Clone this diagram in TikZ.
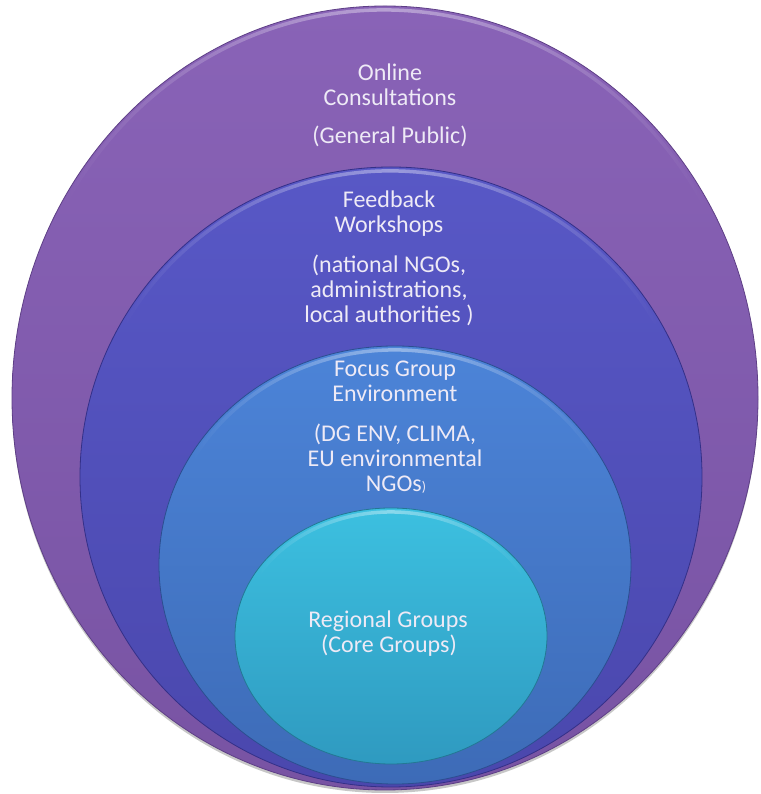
\documentclass[tikz,border=0pt]{standalone}
\usepackage{fontspec}
\setmainfont{Carlito}
\usetikzlibrary{fadings}
\definecolor{oTop}{HTML}{8963B7}
\definecolor{oBot}{HTML}{7853A3}
\definecolor{oLine}{HTML}{5E3F86}
\definecolor{fTop}{HTML}{5858C6}
\definecolor{fBot}{HTML}{4A47AD}
\definecolor{fLine}{HTML}{343088}
\definecolor{gTop}{HTML}{4C84D8}
\definecolor{gBot}{HTML}{3D6BB7}
\definecolor{gLine}{HTML}{2C4E90}
\definecolor{rTop}{HTML}{3CC0E0}
\definecolor{rBot}{HTML}{2F9AC0}
\definecolor{rLine}{HTML}{237894}
\definecolor{txt}{HTML}{EEEAF6}
\tikzfading[name=midfade, left color=transparent!100, right color=transparent!100, middle color=transparent!0]
\tikzset{
  lbl/.style={anchor=base, inner sep=0pt, text=txt, font=\fontsize{24}{25}\selectfont},
  hilite/.style={white, opacity=0.4, line width=3.5pt, path fading=midfade},
}
\begin{document}
\begin{tikzpicture}[x=1pt,y=1pt]
\useasboundingbox (0,0) rectangle (760,794);
\fill[white] (0,0) rectangle (760,794);
% shadow
\fill[black,opacity=0.22] (385,393) ellipse[x radius=373,y radius=392];
% outer
\shade[top color=oTop,bottom color=oBot,draw=oLine,line width=0.8pt] (385,396) ellipse[x radius=373,y radius=392];
\draw[hilite] (385,396) ++(30:369 and 388) arc[start angle=30,end angle=150,x radius=369,y radius=388];
% feedback
\shade[top color=fTop,bottom color=fBot,draw=fLine,line width=0.8pt] (391,317) ellipse[x radius=311,y radius=310];
\draw[hilite] (391,317) ++(30:307 and 306) arc[start angle=30,end angle=150,x radius=307,y radius=306];
% focus
\shade[top color=gTop,bottom color=gBot,draw=gLine,line width=0.8pt] (395,229) ellipse[x radius=236,y radius=219];
\draw[hilite] (395,229) ++(30:232 and 215) arc[start angle=30,end angle=150,x radius=232,y radius=215];
% regional
\shade[top color=rTop,bottom color=rBot,draw=rLine,line width=0.8pt] (391,158) ellipse[x radius=156,y radius=128];
\draw[hilite] (391,158) ++(30:152 and 124) arc[start angle=30,end angle=150,x radius=152,y radius=124];
% texts
\node[lbl] (t1) at (390,713) {Online};
\node[lbl] (t2) at (390,688) {Consultations};
\node[lbl] (t3) at (390,650) {(General Public)};
\node[lbl] (t4) at (389,586) {Feedback};
\node[lbl] (t5) at (389,561) {Workshops};
\node[lbl] (t6) at (389,521) {(national NGOs,};
\node[lbl] (t7) at (389,496) {administrations,};
\node[lbl] (t8) at (389,471) {local authorities )};
\node[lbl] (t9) at (395,417) {Focus Group};
\node[lbl] (t10) at (395,392) {Environment};
\node[lbl] (t11) at (395,352) {(DG ENV, CLIMA,};
\node[lbl] (t12) at (395,327) {EU environmental};
\node[lbl] (t13) at (396,302) {NGOs{\fontsize{14}{14}\selectfont )}};
\node[lbl] (t14) at (388,166) {Regional Groups};
\node[lbl] (t15) at (389,141) {(Core Groups)};
\end{tikzpicture}
\end{document}
